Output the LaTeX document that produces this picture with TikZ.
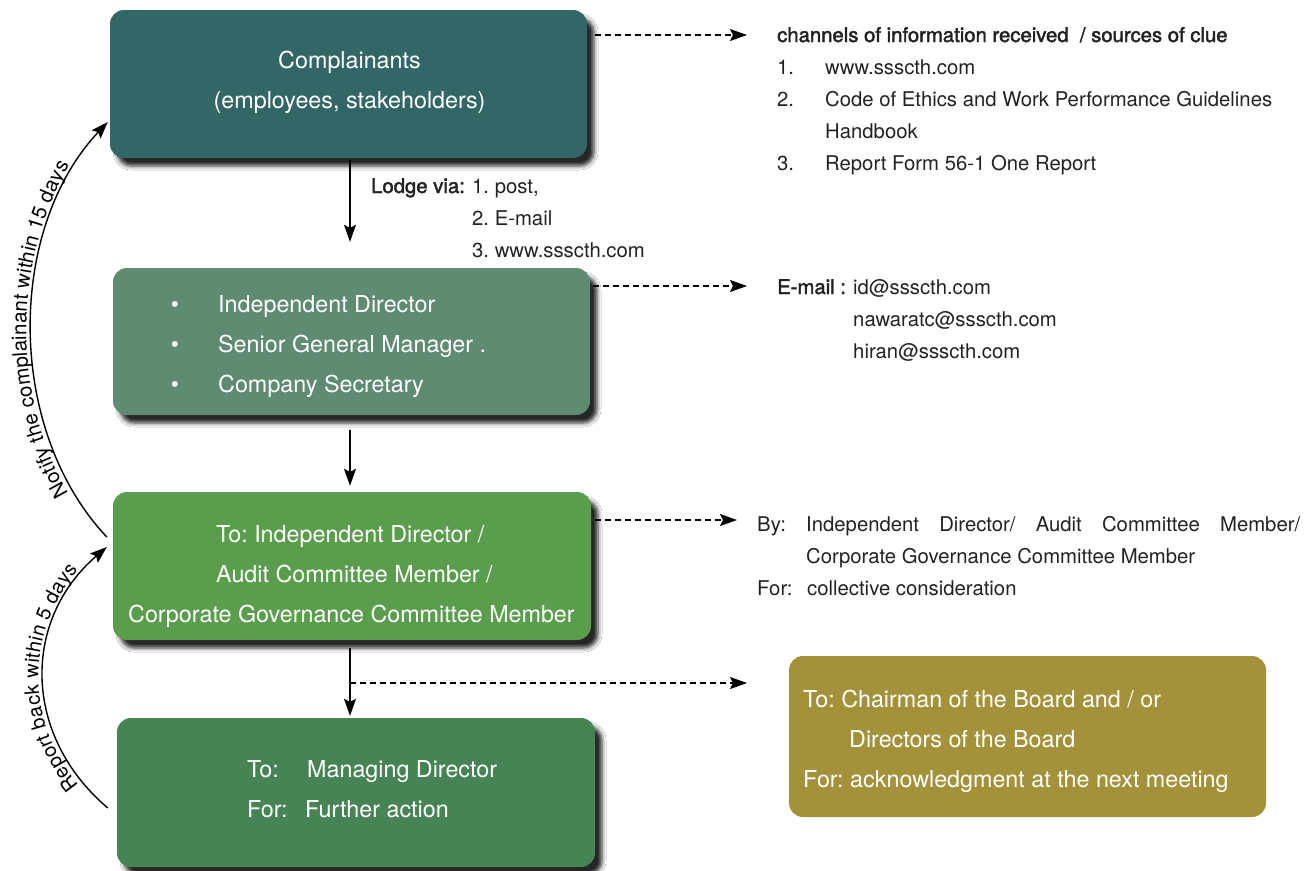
\documentclass[tikz,border=0pt]{standalone}
\usepackage{fontspec}
\setmainfont{TeX Gyre Heros}
\newfontfamily\fbold{TeX Gyre Heros}[FakeBold=2]
\usetikzlibrary{arrows.meta,shadows.blur,calc,decorations.text}
\definecolor{cA}{RGB}{51,102,102}
\definecolor{cB}{RGB}{94,139,114}
\definecolor{cC}{RGB}{90,158,77}
\definecolor{cD}{RGB}{71,132,85}
\definecolor{cE}{RGB}{163,146,57}
\definecolor{tx}{RGB}{34,34,34}
\begin{document}
\frenchspacing
\begin{tikzpicture}[x=1pt,y=-1pt,
  box/.style={rounded corners=14pt, inner sep=0pt, draw=none, minimum width=477pt},
  shad/.style={blur shadow={shadow xshift=7pt,shadow yshift=-8pt,shadow blur radius=4pt,shadow opacity=85}},
  wt/.style={text=white, font=\fontsize{23.3}{28}\selectfont, anchor=base west, inner sep=0pt},
  st/.style={text=tx, font=\fontsize{20.3}{24}\selectfont, anchor=base west, inner sep=0pt},
  arr/.style={line width=1.4pt, -{Stealth[length=17pt,width=12pt,inset=3pt]}},
  darr/.style={line width=1.4pt, dash pattern=on 6pt off 4pt, -{Stealth[length=17pt,width=12pt,inset=3pt]}}
]
\useasboundingbox[fill=white] (0,0) rectangle (1313,870);

% boxes
\node[box, shad, fill=cA, minimum height=148pt] (b1) at (348.5,84) {};
\node[box, shad, fill=cB, minimum height=147pt] (b2) at (351.5,341.5) {};
\node[box, shad, fill=cC, minimum width=478pt, minimum height=148pt] (b3) at (352,566) {};
\node[box, shad, fill=cD, minimum width=478pt, minimum height=149pt] (b4) at (356,792.5) {};
\node[box, fill=cE, minimum height=161pt] (b5) at (1027.5,736.5) {};

% box texts
\node[wt, anchor=base] (t11) at (349.5,68) {Complainants};
\node[wt, anchor=base] (t12) at (349.5,108) {(employees, stakeholders)};

\node[wt, anchor=base] (k1) at (175,312) {•};
\node[wt, anchor=base] (k2) at (175,352) {•};
\node[wt, anchor=base] (k3) at (175,392) {•};
\node[wt] (t21) at (218,312) {Independent Director};
\node[wt] (t22) at (218,352) {Senior General Manager .};
\node[wt] (t23) at (218,392) {Company Secretary};

\node[wt] (t31) at (216,542) {To: Independent Director /};
\node[wt] (t32) at (216,582) {Audit Committee Member /};
\node[wt] (t33) at (128,622) {Corporate Governance Committee Member};

\node[wt] (t41) at (247,777) {To:};
\node[wt] (t42) at (307,777) {Managing Director};
\node[wt] (t43) at (247,817) {For:};
\node[wt] (t44) at (305,817) {Further action};

\node[wt] (t51) at (803,707) {To: Chairman of the Board and / or};
\node[wt] (t52) at (849,747) {Directors of the Board};
\node[wt] (t53) at (803,787) {For: acknowledgment at the next meeting};

% side texts
\node[st] (r0) at (777,42) {\fbold channels of information received\ \ / sources of clue};
\node[st] (r1n) at (777,74) {1.};
\node[st] (r1) at (825,74) {www.ssscth.com};
\node[st] (r2n) at (777,106) {2.};
\node[st] (r2) at (825,106) {Code of Ethics and Work Performance Guidelines};
\node[st] (r2b) at (825,138) {Handbook};
\node[st] (r3n) at (777,170) {3.};
\node[st] (r3) at (825,170) {Report Form 56-1 One Report};

\node[st] (l0) at (371,193) {\fbold Lodge via:};
\node[st] (l1) at (472,193) {1. post,};
\node[st] (l2) at (472,225) {2. E-mail};
\node[st] (l3) at (472,257) {3. www.ssscth.com};

\node[st] (m0) at (777,294) {\fbold E-mail :};
\node[st] (m1) at (853,294) {id@ssscth.com};
\node[st] (m2) at (853,326) {nawaratc@ssscth.com};
\node[st] (m3) at (853,358) {hiran@ssscth.com};

\node[st] (y0) at (757,531) {By:};
\node[st] (y1) at (806,531) {\makebox[494pt][s]{Independent Director/ Audit Committee Member/}};
\node[st] (y2) at (806,563) {Corporate Governance Committee Member};
\node[st] (y3) at (757,595) {For:};
\node[st] (y4) at (807,595) {collective consideration};

% vertical arrows
\draw[arr] ($(b1.south)+(1.5,2)$) -- ($(b2.north)+(-1.5,-26)$);
\draw[arr] ($(b2.south)+(-1.5,15)$) -- ($(b3.north)+(-2,-6)$);
\draw[arr] ($(b3.south)+(-2,8)$) -- ($(b4.north)+(-6,-2)$);

% dashed arrows
\coordinate (e1) at (747,35);
\coordinate (e2) at (747,286);
\coordinate (e3) at (737,520);
\coordinate (j4) at (350,683);
\coordinate (e4) at (747,683);
\draw[darr] ($(b1.east)+(8,-49)$) -- (e1);
\draw[darr] ($(b2.east)+(3,-55.5)$) -- (e2);
\draw[darr] ($(b3.east)+(4,-46)$) -- (e3);
\draw[darr] (j4) -- (e4);

% curved arrows
\draw[arr] ([shift={(-6,-29)}]b3.west) .. controls (6,430) and (6,230) .. ([shift={(-2,38)}]b1.west);
\path[decorate, decoration={text along path, text align=center, raise=5pt,
  text={|\fontsize{20.5}{22}\selectfont|Notify the complainant within 15 days}}]
  ([shift={(-6,-29)}]b3.west) .. controls (6,430) and (6,230) .. ([shift={(-2,38)}]b1.west);
\draw[arr] ([shift={(-9,15.5)}]b4.west) .. controls (22,735) and (22,620) .. ([shift={(-6,-19)}]b3.west);
\path[decorate, decoration={text along path, text align=center, raise=5pt,
  text={|\fontsize{20}{22}\selectfont|Report back within 5 days}}]
  ([shift={(-9,15.5)}]b4.west) .. controls (22,735) and (22,620) .. ([shift={(-6,-19)}]b3.west);
\end{tikzpicture}
\end{document}
